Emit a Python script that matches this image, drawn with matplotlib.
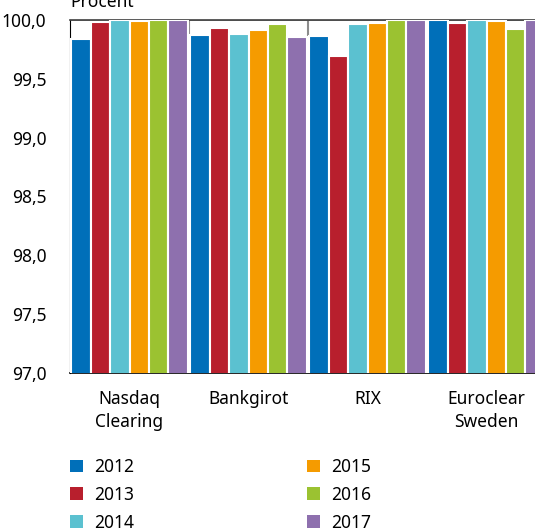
import numpy as np
import matplotlib
matplotlib.use("Agg")
import matplotlib.pyplot as plt
from matplotlib.patches import Patch

plt.rcParams['font.family'] = ['Noto Sans', 'DejaVu Sans']

categories = ['Nasdaq\nClearing', 'Bankgirot', 'RIX', 'Euroclear\nSweden']
years = ['2012', '2013', '2014', '2015', '2016', '2017']
values = {
    '2012': [99.84, 99.87, 99.867, 100.0],
    '2013': [99.98, 99.935, 99.695, 99.975],
    '2014': [100.0, 99.88, 99.966, 100.0],
    '2015': [99.99, 99.915, 99.975, 99.99],
    '2016': [100.0, 99.966, 100.0, 99.925],
    '2017': [100.0, 99.855, 100.0, 100.0],
}
colors = ['#006fb9', '#b81f2d', '#5bc1d0', '#f59b00', '#9bc231', '#8e70ae']
yticks = [97.0, 97.5, 98.0, 98.5, 99.0, 99.5, 100.0]

fig = plt.figure(figsize=(5.35, 5.31), dpi=100)
ax = fig.add_axes([70 / 535, 1 - 373 / 531, 476 / 535, 353 / 531])

x = np.arange(len(categories))
pitch = 0.98 / len(years)
for i, yr in enumerate(years):
    ax.bar(x + (i - 2.5) * pitch, values[yr], width=pitch, bottom=0,
           color=colors[i], edgecolor='white', linewidth=1.5, zorder=3)

ax.set_ylim(97.0, 100.0)
ax.set_xlim(-0.5, 3.5)
ax.set_yticks(yticks)
ax.set_yticklabels([f'{v:.1f}'.replace('.', ',') for v in yticks])
ax.set_xticks(x)
ax.set_xticklabels(categories, linespacing=1.35)
ax.tick_params(axis='both', length=0, labelsize=12.5)
ax.tick_params(axis='y', pad=17)
ax.tick_params(axis='x', pad=12)

ax.grid(axis='y', color='#7f7f7f', linewidth=1.2, zorder=0)
for xv in [0.5, 1.5, 2.5]:
    ax.axvline(xv, color='#8c8c8c', linewidth=1.5, zorder=1)
ax.spines['right'].set_visible(False)
ax.spines['top'].set_color('#404040')
ax.spines['top'].set_linewidth(1.2)
ax.spines['left'].set_color('black')
ax.spines['bottom'].set_color('black')
ax.spines['bottom'].set_linewidth(1.2)

fig.text(70 / 535, 1 - 2 / 531, 'Procent', fontsize=12.5, ha='left', va='center')

handles = [Patch(facecolor=c, edgecolor='none', label=y) for c, y in zip(colors, years)]
fig.legend(handles=handles, ncol=2, loc='upper left',
           bbox_to_anchor=(70 / 535, 1 - 458 / 531), frameon=False,
           fontsize=12.5, handlelength=0.75, handleheight=0.75,
           handletextpad=0.65, columnspacing=9.95, labelspacing=0.57,
           borderpad=0, borderaxespad=0)

fig.savefig('out.png', dpi=100)
